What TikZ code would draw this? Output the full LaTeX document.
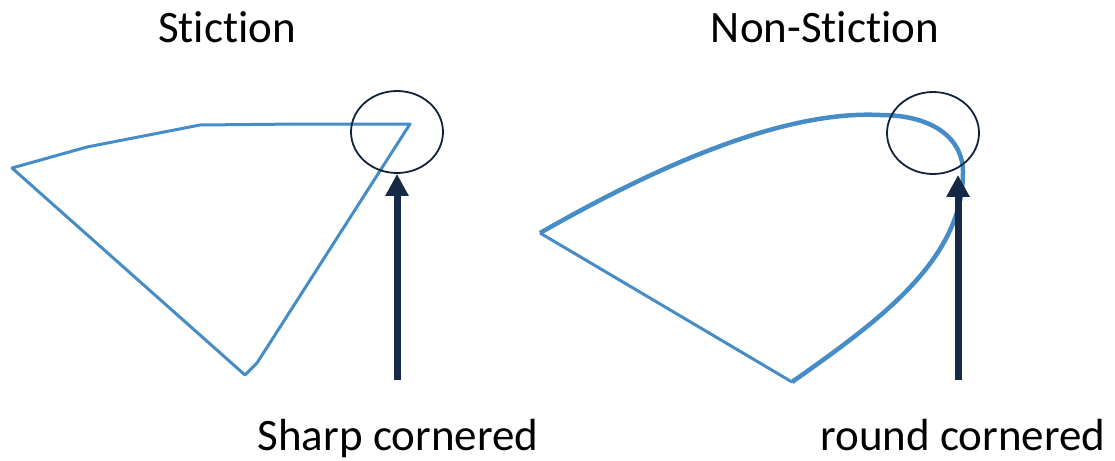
\documentclass[tikz,border=0pt]{standalone}
\usepackage{fontspec}
\setmainfont[Ligatures={NoCommon,NoRare}]{Carlito}
\usetikzlibrary{arrows.meta,shapes.geometric}
\definecolor{curveblue}{RGB}{70,140,198}
\definecolor{navy}{RGB}{22,42,72}
\tikzset{
  curve/.style={draw=curveblue,line width=3pt,line join=round},
  thickcurve/.style={curve,line width=4.5pt},
  ring/.style={ellipse,draw=navy!80!black,line width=1.8pt,minimum width=92pt,minimum height=82pt,inner sep=0pt},
  pointer/.style={draw=navy,line width=7pt,-{Triangle[width=22pt,length=22pt]}},
  label/.style={font=\fontsize{45}{50}\selectfont,anchor=base,inner sep=0pt}
}
\begin{document}
\begin{tikzpicture}[x=1pt,y=-1pt]
\useasboundingbox (0,0) rectangle (1115,460);
% titles
\node[label] (t1) at (227,43) {Stiction};
\node[label] (t2) at (825,43) {Non-Stiction};
\node[label] (b1) at (398,450) {Sharp cornered};
\node[label] (b2) at (963,450) {round cornered};
% left polygon
\draw[curve] (12,168) -- (87,147) -- (200,125) -- (300,124) -- (410,124) -- (257,363) -- (245,375) -- cycle;
% right shape
\draw[thickcurve] (540,233) .. controls (650,170) and (780,110) .. (880,115)
  .. controls (935,115) and (963,140) .. (963,172)
  .. controls (963,260) and (880,320) .. (792,382);
\draw[curve] (792,382) -- (540,233);
% circles
\node[ring] (c1) at (397,132) {};
\node[ring] (c2) at (933,133) {};
% arrows
\coordinate (a1) at (397,380);
\coordinate (a2) at (958,380);
\draw[pointer] (a1) -- (c1.south);
\draw[pointer] (a2) -- (a2 |- c2.south);
\end{tikzpicture}
\end{document}
